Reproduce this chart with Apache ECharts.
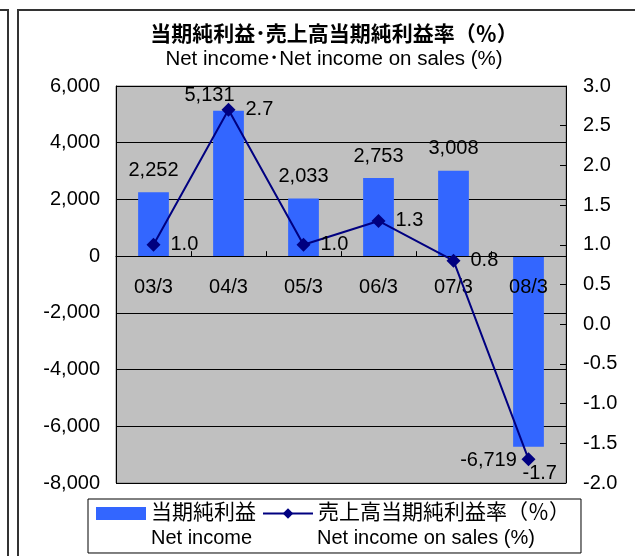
<!DOCTYPE html>
<html>
<head>
<meta charset="utf-8">
<script src="https://cdn.jsdelivr.net/npm/echarts@6/dist/echarts.min.js"></script>
<style>
  html, body { margin: 0; padding: 0; background: #fff; }
  #frameA { position: absolute; left: 0; top: 9px; width: 7px; height: 600px; border-top: 2px solid #333; border-right: 2px solid #333; }
  #frameB { position: absolute; left: 17px; top: 9px; width: 700px; height: 600px; border-top: 2px solid #333; border-left: 2px solid #333; }
  #chart { position: absolute; left: 0; top: 0; width: 635px; height: 556px; }
</style>
</head>
<body>
<div id="frameA"></div>
<div id="frameB"></div>
<div id="chart"></div>
<script>
const categories = ['03/3', '04/3', '05/3', '06/3', '07/3', '08/3'];
const netIncome = [2252, 5131, 2033, 2753, 3008, -6719];
const netIncomeOnSales = [1.0, 2.7, 1.0, 1.3, 0.8, -1.7];
const leftTicks = { min: -8000, max: 6000, interval: 2000 };
const rightTicks = { min: -2.0, max: 3.0, interval: 0.5 };
const barName = '当期純利益';
const lineName = '売上高当期純利益率（％）';
const barNameEn = 'Net income';
const lineNameEn = 'Net income on sales (%)';
const titleJa = '当期純利益･売上高当期純利益率（％）';
const titleEn = 'Net income･Net income on sales (%)';

const FONT = "'Liberation Sans', Arial, 'Noto Sans CJK JP', sans-serif";
function fmt(v) {
  const s = Math.abs(v).toString().replace(/\B(?=(\d{3})+(?!\d))/g, ',');
  return (v < 0 ? '-' : '') + s;
}

const GRID = { left: 116, right: 69, top: 86, bottom: 73 };
const gridHeight = 556 - GRID.top - GRID.bottom;
// place the category axis on the zero of the left value axis
const zeroOffset = -gridHeight * (0 - leftTicks.min) / (leftTicks.max - leftTicks.min);

const barData = netIncome.map((v, i) => {
  const d = { value: v };
  if (i === 1) d.label = { distance: 5, offset: [-19, 0] };
  if (v < 0) d.label = { distance: 4, offset: [-40, 0] };
  return d;
});
const lineData = netIncomeOnSales.map((v, i) => {
  const d = { value: v };
  if (v < 0) d.label = { offset: [-23, 14] };
  return d;
});

const chart = echarts.init(document.getElementById('chart'), null, { renderer: 'canvas' });
chart.setOption({
  animation: false,
  textStyle: { fontFamily: FONT },
  grid: Object.assign({
    show: true, backgroundColor: '#C0C0C0', borderColor: '#808080', borderWidth: 1
  }, GRID),
  graphic: [
    { type: 'text', style: { x: 334, y: 35, text: titleJa, textAlign: 'center', textVerticalAlign: 'middle', fontSize: 21, fontWeight: 'bold', fontFamily: FONT, fill: '#000' } },
    { type: 'text', style: { x: 334, y: 59, text: titleEn, textAlign: 'center', textVerticalAlign: 'middle', fontSize: 20.5, fontFamily: FONT, fill: '#000' } },
    { type: 'text', z: 100, style: { x: 151, y: 538, text: barNameEn, textAlign: 'left', textVerticalAlign: 'middle', fontSize: 20, fontFamily: FONT, fill: '#000' } },
    { type: 'text', z: 100, style: { x: 317, y: 538, text: lineNameEn, textAlign: 'left', textVerticalAlign: 'middle', fontSize: 20, fontFamily: FONT, fill: '#000' } }
  ],
  legend: {
    left: 88, top: 499,
    padding: [4, 11, 29, 8],
    itemWidth: 50, itemHeight: 13, itemGap: 6,
    borderColor: '#000', borderWidth: 1, backgroundColor: '#fff',
    textStyle: { fontSize: 21, color: '#000', fontFamily: FONT },
    data: [{ name: barName, icon: 'rect' }, { name: lineName }]
  },
  xAxis: {
    type: 'category',
    data: categories,
    position: 'bottom',
    offset: zeroOffset,
    z: 2,
    axisLine: { onZero: false, lineStyle: { color: '#000', width: 1 } },
    axisTick: { show: true, inside: true, length: 5, lineStyle: { color: '#000' } },
    axisLabel: { margin: 21, fontSize: 20, color: '#000', fontFamily: FONT },
    splitLine: { show: false }
  },
  yAxis: [
    {
      type: 'value', min: leftTicks.min, max: leftTicks.max, interval: leftTicks.interval,
      axisLine: { show: true, onZero: false, lineStyle: { color: '#000' } },
      axisTick: { show: true, inside: true, length: 5, lineStyle: { color: '#000' } },
      axisLabel: { margin: 16, fontSize: 20, color: '#000', fontFamily: FONT, formatter: v => fmt(v) },
      splitLine: { show: true, lineStyle: { color: '#000', width: 1 } }
    },
    {
      type: 'value', min: rightTicks.min, max: rightTicks.max, interval: rightTicks.interval,
      position: 'right',
      axisLine: { show: true, onZero: false, lineStyle: { color: '#000' } },
      axisTick: { show: true, inside: true, length: 6, lineStyle: { color: '#000' } },
      axisLabel: { margin: 17, fontSize: 20, color: '#000', fontFamily: FONT, formatter: v => v.toFixed(1) },
      splitLine: { show: false }
    }
  ],
  series: [
    {
      name: barName, type: 'bar', yAxisIndex: 0, data: barData,
      barWidth: '41%',
      itemStyle: { color: '#3366FF' },
      label: { show: true, position: 'outside', distance: 12, fontSize: 20, color: '#000', fontFamily: FONT, formatter: p => fmt(p.value) },
      z: 1
    },
    {
      name: lineName, type: 'line', yAxisIndex: 1, data: lineData,
      symbol: 'diamond', symbolSize: 14,
      itemStyle: { color: '#000080' },
      lineStyle: { color: '#000080', width: 2 },
      label: { show: true, position: 'right', distance: 10, fontSize: 20, color: '#000', fontFamily: FONT, formatter: p => p.value.toFixed(1) },
      z: 3
    }
  ]
});
</script>
</body>
</html>
